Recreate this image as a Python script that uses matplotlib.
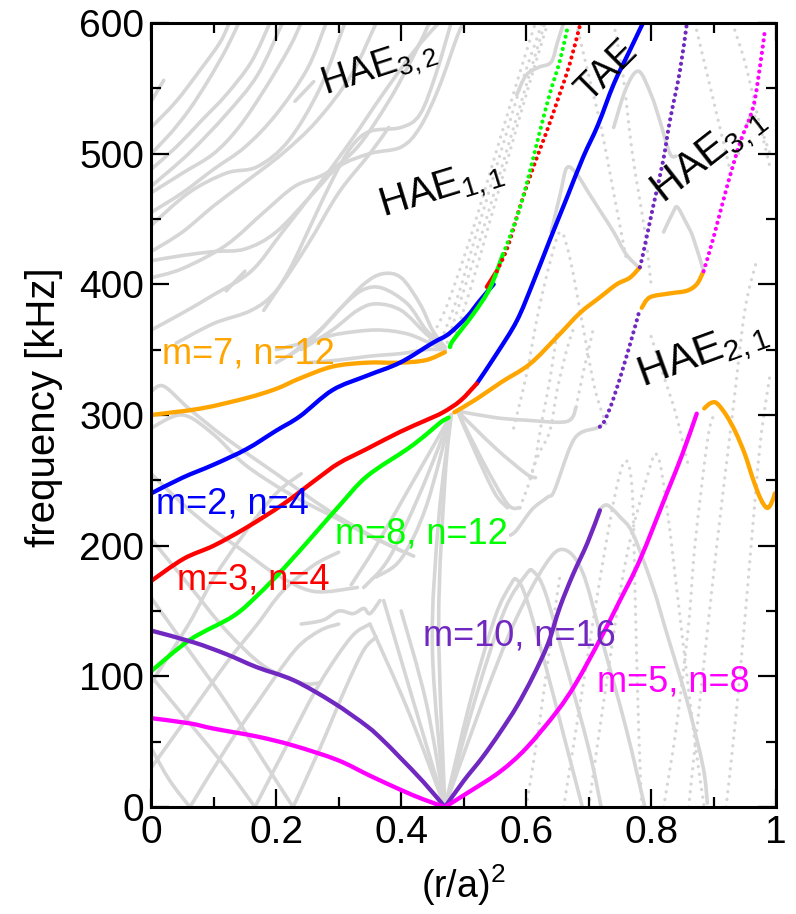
import matplotlib
matplotlib.use('Agg')
import matplotlib.pyplot as plt
import numpy as np
from matplotlib.path import Path
from matplotlib.patches import PathPatch

plt.rcParams['font.family'] = ['Liberation Sans', 'DejaVu Sans']
plt.rcParams['mathtext.fontset'] = 'custom'
plt.rcParams['mathtext.rm'] = 'Liberation Sans'
plt.rcParams['mathtext.it'] = 'Liberation Sans'

# ---- 연속 스펙트럼 (회색) : (r/a)^2, 주파수[kHz] ----
gray_top = [
    [(0, 540), (0.01, 548), (0.02, 556)],
    [(0, 520), (0.04, 540), (0.08, 565), (0.11, 585), (0.125, 600)],
    [(0, 500), (0.03, 515), (0.06, 533), (0.09, 555), (0.12, 580), (0.14, 600)],
    [(0, 488), (0.04, 505), (0.08, 525), (0.12, 545), (0.16, 570), (0.19, 600)],
    [(0, 475), (0.06, 500), (0.12, 530), (0.17, 560), (0.21, 600)],
    [(0, 470), (0.05, 485), (0.1, 500), (0.14, 520), (0.18, 548), (0.22, 580), (0.24, 600)],
    [(0, 455), (0.05, 470), (0.1, 488), (0.15, 505), (0.2, 530), (0.25, 565), (0.28, 600)],
    [(0, 445), (0.06, 470), (0.12, 485), (0.17, 490), (0.22, 510), (0.27, 550), (0.31, 600)],
    [(0, 425), (0.05, 440), (0.1, 460), (0.15, 478), (0.21, 500), (0.265, 525), (0.32, 560), (0.36, 600)],
    [(0, 418), (0.05, 422), (0.1, 425), (0.15, 427), (0.2, 440), (0.26, 470), (0.3, 490),
     (0.35, 500), (0.4, 505), (0.43, 520), (0.46, 550), (0.49, 590), (0.5, 600)],
    [(0, 405), (0.05, 412), (0.12, 430), (0.18, 455), (0.23, 475), (0.28, 485), (0.33, 505),
     (0.38, 540), (0.42, 575), (0.445, 600)],
    [(0, 365), (0.05, 378), (0.1, 392), (0.16, 410), (0.21, 440), (0.265, 474), (0.32, 510),
     (0.37, 545), (0.42, 578), (0.46, 600)],
    [(0.18, 380), (0.22, 410), (0.26, 450), (0.29, 480), (0.32, 505), (0.35, 517), (0.4, 520),
     (0.43, 530), (0.455, 560), (0.48, 600)],
    [(0.04, 355), (0.1, 370), (0.16, 380), (0.2, 395), (0.25, 430), (0.3, 470), (0.35, 500), (0.38, 520)],
    [(0.23, 540), (0.26, 555)],
    [(0.12, 395), (0.15, 410)],
]

gray_bumps = [
    [(0.2, 340), (0.25, 355), (0.3, 380), (0.34, 400), (0.37, 408), (0.4, 405), (0.43, 385), (0.45, 365), (0.47, 352)],
    [(0.22, 345), (0.27, 365), (0.31, 385), (0.34, 396), (0.37, 397), (0.41, 385), (0.44, 365), (0.47, 352)],
    [(0.24, 350), (0.29, 365), (0.33, 380), (0.36, 385), (0.4, 380), (0.44, 362), (0.47, 350)],
    [(0.2, 350), (0.26, 357), (0.3, 362), (0.36, 365), (0.41, 362), (0.45, 354), (0.47, 350)],
    [(0.25, 340), (0.3, 342), (0.35, 345), (0.4, 347), (0.44, 350), (0.47, 350)],
    [(0, 318), (0.02, 322), (0.06, 305), (0.12, 282), (0.2, 255), (0.28, 228), (0.35, 208), (0.4, 196)],
    [(0, 290), (0.05, 300), (0.1, 285), (0.15, 262), (0.22, 240), (0.3, 220), (0.36, 205), (0.42, 192)],
]

gray_lattice = [
    [(0, 45), (0.03, 20), (0.062, 0)],
    [(0, 100), (0.06, 65), (0.12, 30), (0.166, 0)],
    [(0, 160), (0.06, 120), (0.12, 80), (0.18, 35), (0.227, 0)],
    [(0, 205), (0.06, 170), (0.12, 135), (0.18, 108), (0.24, 95), (0.27, 95)],
    [(0, 255), (0.05, 232), (0.1, 212), (0.15, 195), (0.2, 178), (0.26, 165), (0.33, 168)],
    [(0.062, 0), (0.12, 45), (0.17, 80), (0.23, 120), (0.27, 135), (0.3, 140)],
    [(0, 30), (0.06, 70), (0.12, 110), (0.17, 140), (0.21, 165), (0.26, 185), (0.3, 195)],
    [(0.166, 0), (0.22, 50), (0.27, 95), (0.32, 130), (0.35, 140)],
    [(0.227, 0), (0.27, 45), (0.31, 90), (0.34, 120), (0.36, 130)],
    [(0, 95), (0.06, 140), (0.1, 175), (0.15, 210), (0.2, 240), (0.24, 255)],
    [(0.24, 140), (0.275, 143), (0.3, 150), (0.323, 148), (0.34, 152), (0.35, 148), (0.366, 158)],
    [(0.47, 0), (0.41, 75), (0.35, 140)],
    [(0.47, 0), (0.42, 80), (0.372, 158)],
    [(0.47, 0), (0.44, 80), (0.4, 150)],
    [(0.47, 0), (0.45, 120), (0.46, 220), (0.48, 300)],
    [(0.47, 0), (0.46, 140), (0.47, 250), (0.48, 300)],
    [(0.48, 300), (0.42, 250), (0.36, 200), (0.32, 170)],
    [(0.48, 300), (0.43, 240), (0.38, 190), (0.34, 168)],
    [(0.48, 300), (0.44, 230), (0.4, 190), (0.36, 176)],
]

gray_fan = [
    [(0.49, 303), (0.55, 298), (0.6, 296), (0.665, 295), (0.68, 306)],
    [(0.49, 303), (0.55, 275), (0.6, 255), (0.615, 252)],
    [(0.49, 303), (0.53, 265), (0.57, 232), (0.59, 229)],
    [(0.49, 303), (0.52, 270), (0.55, 240), (0.57, 229)],
    [(0.575, 208), (0.585, 212), (0.61, 228), (0.634, 237), (0.645, 242), (0.67, 275), (0.686, 286),
     (0.713, 290), (0.72, 292)],
    [(0.718, 228), (0.73, 231), (0.75, 222), (0.771, 209), (0.803, 168), (0.825, 133), (0.857, 82),
     (0.883, 31), (0.89, 3)],
    [(0.47, 0), (0.51, 80), (0.55, 145), (0.575, 170), (0.585, 174), (0.6, 160), (0.63, 110), (0.66, 55), (0.69, 0)],
    [(0.47, 0), (0.52, 85), (0.565, 150), (0.6, 178), (0.612, 180), (0.63, 165), (0.66, 115), (0.7, 45), (0.72, 0)],
    [(0.47, 0), (0.53, 80), (0.58, 140), (0.63, 185), (0.66, 197), (0.69, 180), (0.72, 130), (0.76, 60), (0.79, 0)],
    [(0.585, 545), (0.6, 560), (0.62, 566), (0.64, 570), (0.65, 585), (0.66, 600)],
    [(0.64, 440), (0.655, 470), (0.665, 489), (0.68, 485), (0.7, 470), (0.72, 455), (0.74, 440),
     (0.76, 423), (0.78, 413)],
    [(0.74, 520), (0.76, 550), (0.78, 563), (0.8, 545), (0.814, 525), (0.83, 500), (0.84, 498)],
    [(0.82, 440), (0.835, 455), (0.842, 459), (0.855, 448), (0.867, 436), (0.884, 410)],
]

gray_dotted = [
    [(0.44, 352), (0.47, 380), (0.5, 420), (0.52, 450), (0.545, 490), (0.57, 530), (0.595, 570), (0.615, 600)],
    [(0.46, 352), (0.49, 390), (0.515, 430), (0.54, 470), (0.565, 510), (0.59, 550), (0.615, 585), (0.625, 600)],
    [(0.47, 350), (0.5, 395), (0.53, 440), (0.555, 480), (0.58, 520), (0.605, 560), (0.63, 600)],
    [(0.48, 352), (0.51, 395), (0.54, 445), (0.57, 495), (0.6, 545), (0.625, 585), (0.635, 600)],
    [(0.606, 252), (0.62, 270), (0.638, 288), (0.65, 320), (0.665, 350), (0.675, 365)],
    [(0.59, 229), (0.611, 258), (0.625, 295), (0.638, 327), (0.65, 365)],
    [(0.68, 306), (0.691, 332), (0.7, 350), (0.707, 365)],
    [(0.66, 0), (0.69, 90), (0.72, 180), (0.745, 245), (0.76, 265), (0.77, 240), (0.775, 150), (0.78, 60), (0.785, 0)],
    [(0.7, 0), (0.73, 100), (0.76, 190), (0.795, 255), (0.81, 269), (0.825, 230), (0.85, 130), (0.87, 50), (0.885, 0)],
    [(0.86, 0), (0.88, 90), (0.905, 200), (0.93, 300), (0.95, 380), (0.97, 420)],
    [(0.92, 0), (0.94, 90), (0.96, 200), (0.975, 280), (0.99, 330)],
    [(0.82, 0), (0.84, 60), (0.86, 140), (0.87, 200), (0.89, 280), (0.9, 300)],
    [(0.6, 0), (0.62, 60), (0.64, 130), (0.655, 180)],
    [(0.58, 290), (0.6, 330), (0.62, 380), (0.64, 420), (0.655, 440), (0.67, 420), (0.69, 370), (0.71, 320), (0.73, 290)],
    [(0.68, 600), (0.7, 560), (0.72, 520), (0.74, 470), (0.76, 420)],
    [(0.74, 600), (0.755, 560), (0.77, 500), (0.79, 440), (0.8, 400)],
    [(0.87, 600), (0.89, 560), (0.91, 520), (0.93, 480)],
    [(0.93, 600), (0.95, 570), (0.97, 530), (0.99, 490)],
    [(0.94, 500), (0.955, 525), (0.963, 530), (0.975, 520), (0.99, 500)],
    [(0.8, 360), (0.82, 330), (0.84, 300), (0.86, 260)],
]

# ---- 고유모드 (색) ----
m7_solid = [
    [(0, 300), (0.08, 305), (0.153, 313), (0.2, 320), (0.238, 328), (0.29, 337), (0.345, 340),
     (0.398, 340), (0.44, 342), (0.47, 348)],
    [(0.485, 302), (0.52, 312), (0.56, 325), (0.606, 339), (0.65, 360), (0.686, 378), (0.718, 390),
     (0.745, 400), (0.766, 405), (0.782, 413)],
    [(0.785, 382), (0.798, 390), (0.83, 393), (0.857, 395), (0.873, 400), (0.883, 409)],
    [(0.885, 305), (0.895, 309), (0.905, 309), (0.92, 300), (0.935, 287), (0.95, 270), (0.963, 251),
     (0.975, 236), (0.985, 229), (0.992, 232), (0.998, 240)],
]
m2_solid = [
    [(0, 240), (0.05, 252), (0.1, 262), (0.153, 274), (0.2, 288), (0.238, 299), (0.29, 319),
     (0.345, 330), (0.398, 340), (0.45, 355), (0.476, 362), (0.505, 375), (0.525, 387), (0.548, 400)],
    [(0.521, 324), (0.553, 347), (0.585, 372), (0.61, 400), (0.638, 434), (0.665, 466), (0.691, 497),
     (0.715, 522), (0.74, 553), (0.765, 578), (0.787, 600)],
]
m3_solid = [
    [(0, 173), (0.052, 190), (0.1, 200), (0.153, 214), (0.212, 232), (0.265, 251), (0.3, 263),
     (0.345, 274), (0.398, 287), (0.44, 296), (0.467, 302), (0.495, 311), (0.521, 324)],
    [(0.537, 398), (0.553, 410)],
]
m3_dotted = [
    [(0.553, 410), (0.57, 428), (0.59, 459), (0.611, 489), (0.633, 517), (0.654, 546), (0.67, 569), (0.686, 598)],
]
m8_solid = [
    [(0, 104), (0.062, 128), (0.131, 146), (0.17, 162), (0.211, 182), (0.265, 211), (0.3, 230),
     (0.345, 253), (0.41, 274), (0.44, 285), (0.462, 294), (0.476, 298)],
    [(0.478, 352), (0.483, 357), (0.515, 377), (0.542, 397), (0.563, 423)],
]
m8_dotted = [
    [(0.563, 423), (0.585, 451), (0.602, 479), (0.622, 517), (0.638, 546), (0.654, 571), (0.667, 598)],
]
m10_solid = [
    [(0, 135), (0.068, 126), (0.12, 117), (0.169, 107), (0.228, 97), (0.291, 80), (0.345, 62),
     (0.371, 51), (0.398, 38), (0.436, 19), (0.47, 0)],
    [(0.47, 0), (0.5, 20), (0.53, 38), (0.558, 57), (0.585, 77), (0.611, 100), (0.635, 125),
     (0.654, 153), (0.675, 178), (0.698, 202), (0.718, 227)],
]
m10_dotted = [
    [(0.718, 291), (0.726, 296), (0.74, 313), (0.762, 347), (0.782, 381)],
    [(0.782, 413), (0.787, 423), (0.803, 459), (0.819, 494), (0.83, 525), (0.846, 563), (0.857, 599)],
]
m5_solid = [
    [(0, 68), (0.062, 64), (0.1, 60), (0.169, 54), (0.228, 47), (0.298, 36), (0.35, 24),
     (0.4, 13), (0.435, 6), (0.47, 0)],
    [(0.47, 0), (0.51, 12), (0.558, 27), (0.6, 45), (0.649, 73), (0.68, 95), (0.718, 128),
     (0.75, 158), (0.782, 189), (0.825, 240), (0.85, 270), (0.873, 301)],
]
m5_dotted = [
    [(0.884, 410), (0.9, 436), (0.921, 474), (0.942, 508), (0.963, 535), (0.974, 566), (0.982, 594)],
]

mode_labels = ['m=7, n=12', 'm=2, n=4', 'm=3, n=4', 'm=8, n=12', 'm=10, n=16', 'm=5, n=8']
label_pos = [(0.018, 347), (0.008, 232), (0.042, 174), (0.294, 209), (0.435, 131), (0.714, 96)]

gap_names = [r'HAE$_{3,2}$', r'HAE$_{1,1}$', 'TAE', r'HAE$_{3,1}$', r'HAE$_{2,1}$']
gap_pos = [(0.365, 565), (0.465, 472), (0.73, 563), (0.893, 498), (0.884, 346)]
gap_rot = [18, 17, 45, 38, 20]
gap_size = [27, 29, 27, 30, 31]

c_gray = '#d6d6d6'
colors = {'m7': '#ffa500', 'm2': '#0000ff', 'm3': '#ff0000', 'm8': '#00ff00', 'm10': '#7028c0', 'm5': '#ff00ff'}


# 점들을 지나는 부드러운 곡선 (Catmull-Rom -> 3차 베지어)
def curve_path(pts):
    p = np.array(pts, dtype=float)
    verts = [p[0]]
    codes = [Path.MOVETO]
    n = len(p)
    for i in range(n - 1):
        p0 = p[i - 1] if i > 0 else p[i]
        p1, p2 = p[i], p[i + 1]
        p3 = p[i + 2] if i + 2 < n else p[i + 1]
        verts += [p1 + (p2 - p0) / 6, p2 - (p3 - p1) / 6, p2]
        codes += [Path.CURVE4] * 3
    return Path(verts, codes)


def line(ax, pts, color, lw, z):
    ax.add_patch(PathPatch(curve_path(pts), fill=False, edgecolor=color, lw=lw,
                           capstyle='round', joinstyle='round', zorder=z))


def dots(ax, pts, color, lw, gap, z):
    ax.add_patch(PathPatch(curve_path(pts), fill=False, edgecolor=color, lw=lw,
                           linestyle=(0, (0.01, gap)), capstyle='round', zorder=z))


fig = plt.figure(figsize=(7.96, 9.14), dpi=100)
ax = fig.add_axes([0.19, 0.117, 0.785, 0.858])
ax.set_xlim(0, 1)
ax.set_ylim(0, 600)

for group in (gray_top, gray_bumps, gray_lattice, gray_fan):
    for c in group:
        line(ax, c, c_gray, 2.6, 1)
for c in gray_dotted:
    dots(ax, c, c_gray, 2.4, 2.3, 1)

for name, segs in (('m7', m7_solid), ('m2', m2_solid), ('m3', m3_solid), ('m8', m8_solid),
                   ('m10', m10_solid), ('m5', m5_solid)):
    for s in segs:
        line(ax, s, colors[name], 3.1, 3)
for name, segs in (('m3', m3_dotted), ('m8', m8_dotted), ('m10', m10_dotted), ('m5', m5_dotted)):
    for s in segs:
        dots(ax, s, colors[name], 3.0, 1.5, 3)

lab_colors = [colors['m7'], colors['m2'], colors['m3'], colors['m8'], colors['m10'], colors['m5']]
for t, (x, y), c in zip(mode_labels, label_pos, lab_colors):
    ax.text(x, y, t, color=c, fontsize=26, va='center', ha='left', zorder=5)

for t, (x, y), r, s in zip(gap_names, gap_pos, gap_rot, gap_size):
    ax.text(x, y, t, color='black', fontsize=s, rotation=r, ha='center', va='center',
            rotation_mode='anchor', zorder=5)

ax.set_xticks([0, 0.2, 0.4, 0.6, 0.8, 1])
ax.set_xticklabels(['0', '0.2', '0.4', '0.6', '0.8', '1'])
ax.set_xticks([0.1, 0.3, 0.5, 0.7, 0.9], minor=True)
ax.set_yticks([0, 100, 200, 300, 400, 500, 600])
ax.set_yticks([50, 150, 250, 350, 450, 550], minor=True)
ax.tick_params(which='both', direction='in', top=True, right=True, width=1.6, labelsize=28)
ax.tick_params(which='major', length=13)
ax.tick_params(which='minor', length=7)
ax.tick_params(axis='x', pad=6)
ax.tick_params(axis='y', pad=5)
for sp in ax.spines.values():
    sp.set_linewidth(2.2)
    sp.set_zorder(6)

ax.set_xlabel(r'(r/a)$^2$', fontsize=27, labelpad=8)
ax.set_ylabel('frequency [kHz]', fontsize=29)
ax.yaxis.set_label_coords(-0.142, 0.51)

fig.savefig('out.png', dpi=100)
